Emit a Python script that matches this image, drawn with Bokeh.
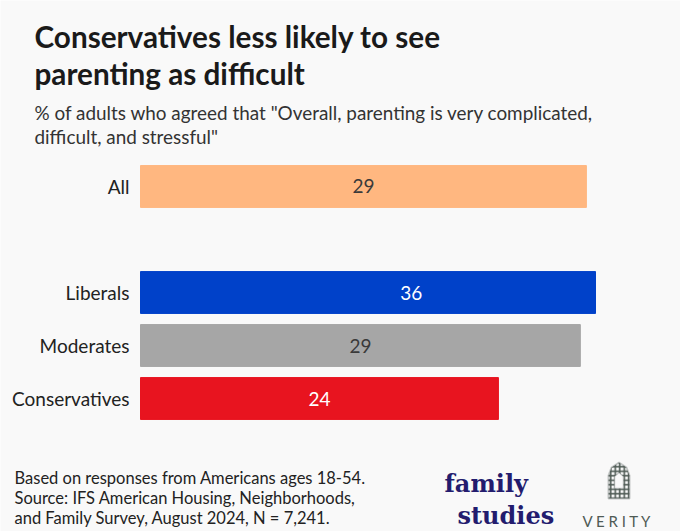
from bokeh.plotting import figure
from bokeh.models import ColumnDataSource, Range1d, FactorRange, Label, PolyAnnotation
from bokeh.embed import file_html
from bokeh.resources import INLINE

groups = ["All", "Liberals", "Moderates", "Conservatives"]
shares = [29.4, 35.7, 29.0, 23.6]
colors = ["#FFB780", "#0041C9", "#A6A6A6", "#E8141F"]
label_colors = ["#3A3A3A", "#FFFFFF", "#3A3A3A", "#FFFFFF"]
# blank factors keep the gap between "All" and the ideology groups
factors = [" ", "Conservatives", "Moderates", "Liberals", "  ", "All", "   ", "    "]
axis_max = 30

title_lines = ["Conservatives less likely to see", "parenting as difficult"]
subtitle_lines = ['% of adults who agreed that "Overall, parenting is very complicated,',
                  'difficult, and stressful"']
note_lines = ["Based on responses from Americans ages 18-54.",
              "Source: IFS American Housing, Neighborhoods,",
              "and Family Survey, August 2024, N = 7,241."]

BG = "#F9F9F9"
W, H = 680, 531
PX = 455 / axis_max  # pixels per percentage point
X0 = 140             # where 0 sits, in canvas px

source = ColumnDataSource(dict(
    group=groups,
    right=[min(s, axis_max) for s in shares],
    mid=[s / 2 for s in shares],
    text=[str(round(s)) for s in shares],
    color=colors,
    tcolor=label_colors,
))

p = figure(width=W, height=H, output_backend="svg", toolbar_location=None,
           y_range=FactorRange(*factors, range_padding=1.009, range_padding_units="absolute"),
           x_range=Range1d(-X0 / PX, (W - X0) / PX),
           min_border=0)
p.background_fill_color = BG
p.border_fill_color = BG
p.outline_line_color = None
p.grid.visible = False
p.axis.visible = False

p.hbar(y="group", right="right", left=0, height=0.79, color="color", source=source)
p.text(x="mid", y="group", text="text", text_color="tcolor", source=source,
       text_align="center", text_baseline="middle", text_font_size="19px",
       text_font={"value": "Lato"})
p.text(x=0, y="group", text="group", source=source, x_offset=-11,
       text_align="right", text_baseline="middle", text_font_size="19px",
       text_font={"value": "Lato"}, text_color="#222222")


def put(text, x, y, size, color, font="Lato", style="normal", align="left"):
    # x, y: canvas pixels, y = baseline measured from the top
    p.add_layout(Label(x=x, y=y, x_units="canvas", y_units="canvas",
                       text=text, text_font=font, text_font_size=size,
                       text_font_style=style, text_color=color,
                       text_align=align, text_baseline="alphabetic"))


for i, t in enumerate(title_lines):
    put(t, 34, 36 + i * 37, "29.7px", "#1A1A1A", style="bold")
for i, t in enumerate(subtitle_lines):
    put(t, 34, 111.5 + i * 24, "18.9px", "#333333")
for i, t in enumerate(note_lines):
    put(t, 14, 477 + i * 20.3, "16.5px", "#222222")

put("family", 444, 483, "24px", "#231C6E", font="DejaVu Serif", style="bold")
put("studies", 457, 515, "24px", "#231C6E", font="DejaVu Serif", style="bold")
put("V E R I T Y", 617, 520, "15px", "#4F5B55", align="center")

# window icon of the Verity logo
win_x = [608, 608, 611, 618.5, 626, 629, 629]
win_y = [498, 475, 467, 462, 467, 475, 498]
p.add_layout(PolyAnnotation(xs=win_x, ys=win_y, xs_units="canvas", ys_units="canvas",
                            fill_color=BG, fill_alpha=1, hatch_pattern="+",
                            hatch_color="#4F5B55", hatch_scale=4.5, hatch_weight=1.6,
                            line_color="#4F5B55", line_width=2))
in_x = [614, 614, 618.5, 623, 623]
in_y = [488, 476, 472, 476, 488]
p.add_layout(PolyAnnotation(xs=in_x, ys=in_y, xs_units="canvas", ys_units="canvas",
                            fill_color=BG, fill_alpha=1,
                            line_color="#4F5B55", line_width=1.5))

open("out.html", "w").write(file_html(p, INLINE))
